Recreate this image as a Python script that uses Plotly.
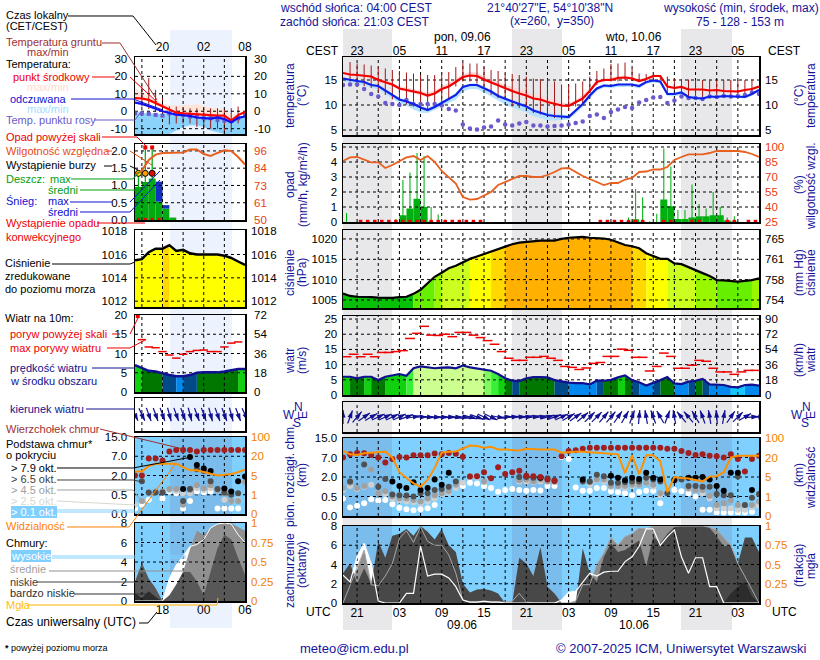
import numpy as np
import plotly.graph_objects as go

N = None
FONT = "Liberation Sans"
NAVY = "#14149a"
W, H = 820, 660

# ---------------- right (long) meteogram: hourly, t = hours from 08.06 21 UTC
T_R = list(range(-2, 58))
temp_mid = [16.4,16.1,16.0,15.8,15.7,15.0,14.6,14.1,13.3,13.0,
            12.6,12.4,11.9,12.3,13.2,13.7,14.6,15.6,15.9,15.8,
            15.1,14.5,14.0,13.4,12.8,12.3,11.9,11.3,11.1,10.6,
            10.3,9.9,9.8,10.6,11.3,12.8,14.6,15.0,15.0,15.4,
            15.5,15.3,14.8,15.2,15.8,15.8,13.7,13.4,13.6,13.1,
            13.1,13.1,12.9,13.0,12.8,12.7,12.7,13.0,13.2,13.7]
temp_hi = [16.6,16.4,16.2,16.1,15.9,15.4,15.0,14.4,13.7,13.5,
           13.2,12.9,12.5,12.9,13.8,14.4,15.3,16.1,16.6,16.5,
           15.8,15.1,14.6,14.0,13.6,13.2,12.8,12.2,11.9,11.4,
           11.0,10.5,10.3,11.0,12.0,13.4,14.9,15.4,15.5,15.8,
           15.9,15.7,15.2,15.5,16.1,16.0,14.0,13.7,13.9,13.4,
           13.3,13.3,13.1,13.2,13.0,12.9,12.9,13.2,13.4,13.9]
temp_lo = [16.2,15.9,15.8,15.6,15.4,14.8,14.3,13.7,13.0,12.7,
           12.2,12.0,11.5,12.0,12.9,13.5,14.3,15.3,15.6,15.5,
           14.8,14.2,13.7,13.1,12.5,12.0,11.6,11.0,10.8,10.3,
           10.0,9.6,9.6,10.4,11.1,12.6,14.4,14.8,14.8,15.2,
           15.3,15.1,14.6,15.0,15.6,15.6,13.5,13.2,13.4,12.9,
           12.9,12.9,12.7,12.8,12.6,12.5,12.5,12.8,13.0,13.5]
feel_mid = [15.3,15.0,14.8,14.6,14.0,13.8,12.9,12.0,11.1,10.7,
            10.2,9.5,9.0,9.6,10.4,11.2,12.0,13.6,14.0,14.0,
            13.4,12.7,11.8,11.2,10.7,10.2,9.7,8.9,8.5,8.0,
            7.8,7.7,7.6,8.9,10.2,11.9,13.3,13.9,13.8,14.1,
            14.1,14.1,13.8,14.6,14.9,14.7,12.2,12.2,12.5,11.6,
            11.4,11.3,11.7,11.6,11.8,11.7,11.7,11.6,12.2,13.0]
feel_hi = [15.5,15.2,15.0,14.8,14.3,14.0,13.1,12.3,11.4,11.0,
           10.5,9.9,9.4,10.0,10.8,11.6,12.4,13.9,14.3,14.3,
           13.7,13.0,12.2,11.6,11.1,10.6,10.1,9.3,8.9,8.4,
           8.2,8.1,8.0,9.2,10.5,12.2,13.6,14.2,14.1,14.3,
           14.3,14.3,14.0,14.8,15.1,14.9,12.5,12.5,12.8,11.9,
           11.7,11.6,12.0,11.9,12.0,11.9,11.9,11.9,12.4,13.2]
feel_lo = [14.7,14.4,14.2,13.9,13.4,13.2,12.2,11.3,10.4,9.9,
           9.1,8.5,8.4,9.0,9.7,10.4,11.1,12.7,13.2,13.2,
           12.5,11.7,10.9,10.1,9.5,9.0,8.5,7.8,7.4,6.9,
           6.9,7.0,7.1,8.3,9.6,11.3,12.8,13.5,13.4,13.6,
           13.6,13.7,13.3,14.2,14.5,14.3,11.8,11.7,12.1,11.2,
           11.0,10.9,11.4,11.3,11.5,11.4,11.4,11.3,11.9,12.7]
dew = [14.0,14.1,14.1,13.2,12.2,11.7,10.4,10.2,10.0,11.0,
       10.2,10.2,10.2,10.2,9.9,9.2,8.9,6.1,5.3,5.1,
       5.5,5.7,6.9,6.1,5.9,6.3,6.6,5.9,5.9,5.7,
       5.8,5.9,6.1,6.4,6.7,7.8,8.1,7.4,8.6,9.1,
       9.6,9.4,10.5,11.0,11.5,11.6,10.4,10.9,11.7,11.4,
       11.4,11.2,11.7,11.6,11.8,11.7,11.8,12.0,12.5,12.2]
ground_max = [N,18.6,18.3,18.1,17.9,17.6,17.3,17.0,16.8,16.5,
              16.3,16.0,16.0,16.0,16.6,16.6,17.6,18.4,18.3,18.3,
              17.6,17.0,16.8,16.3,16.2,16.0,15.7,15.3,15.2,15.2,
              14.7,14.1,14.0,14.3,14.7,15.7,16.8,17.3,18.2,18.3,
              18.5,17.3,16.3,16.2,16.0,15.8,15.7,15.3,15.2,15.1,
              15.0,15.0,15.0,14.9,15.0,15.0,15.0,15.0,15.1,N]
ground_min = [N,14.7,14.3,13.8,13.4,12.7,12.0,11.1,10.9,10.1,
              9.7,9.4,8.8,9.7,10.4,11.1,13.7,14.7,14.7,14.3,
              13.7,12.0,11.4,11.1,9.7,9.4,9.7,8.4,8.1,7.8,
              7.4,7.1,8.8,9.7,10.4,12.4,14.0,14.7,14.7,14.7,
              15.0,15.0,15.0,15.0,15.0,15.0,12.4,13.0,12.7,11.7,
              11.4,11.1,11.7,11.4,11.7,11.7,11.7,11.7,12.0,N]
humidity = [86,89.6,90,87,84.6,84.6,79,82,86,89.6,
            91,87,91,85,76,70,63.5,50,47.4,48,
            51.8,55,62,65,68.5,71,71,70,70,72,
            75,78.6,79,75,71,68,65,62,64,64,
            67.5,69,75,75.5,77.5,77.5,80,87,90,92.6,
            92.6,92.6,94,96,96,96,96,95,93,90]
rain_mean = [0,0,0,0,0,0,0,0,.45,.9,
             1.55,1,.02,0,0,0,0,0,0,0,
             0,0,0,0,0,0,0,0,0,0,
             0,0,0,0,0,0,0,0,0,0,
             .02,.18,.02,0,0,1.5,1.05,.2,.2,.3,
             .38,.38,.45,.45,.1,.03,0,0,0]
rain_max = [.6,0,0,0,0,0,0,.2,2.8,3.3,
            4.6,4.4,1,.5,.15,0,0,0,0,0,
            0,0,0,0,0,0,0,0,0,0,
            0,0,0,0,0,0,0,0,0,0,
            .3,2.2,1.65,.05,.55,4.9,3.7,.8,.8,2.5,
            1.2,.9,2,1,.3,.38,0,0,0]
convective = [0,0,1,1,1,1,1,1,1,1,
              1,1,1,1,1,1,1,1,1,1,
              0,0,0,0,0,0,0,0,0,0,
              0,0,0,0,0,0,1,1,1,1,
              1,1,1,0,0,1,1,0,0,1,
              1,0,0,0,1,1,0,1,1]
pressure = [1006.6,1006.0,1005.8,1005.8,1005.7,1005.6,1005.5,1005.5,1005.7,1005.8,
            1006.5,1007.5,1009.1,1010.7,1011.7,1012.8,1013.4,1014.3,1015.1,1015.7,
            1016.3,1016.9,1017.5,1018.1,1018.7,1019.1,1019.3,1019.5,1019.6,1019.6,
            1019.6,1020.0,1020.3,1020.4,1020.5,1020.3,1020.2,1020.1,1019.8,1019.2,
            1018.5,1018.2,1017.7,1016.5,1015.7,1015.1,1015.1,1014.0,1013.8,1013.0,
            1012.2,1011.6,1010.9,1009.9,1009.8,1009.7,1009.5,1009.7,1009.9,1010.3]
wind = [6.0,6.0,5.5,6.0,6.0,4.9,6.0,6.4,6.9,6.3,
        8.8,9.4,9.1,8.8,9.0,9.1,8.8,9.7,9.1,8.8,
        8.4,8.0,6.9,5.5,4.7,4.6,5.5,5.9,5.9,5.8,
        4.9,4.4,4.1,3.9,3.9,3.5,4.7,4.7,5.0,5.8,
        6.4,4.9,4.2,3.1,3.9,4.9,5.9,3.8,3.6,4.4,
        4.7,5.3,3.5,3.5,3.3,2.7,2.5,3.3,3.4,3.1]
gust = [12.6,13.4,12.6,13.4,12.6,14.0,14.0,14.3,14.6,18.6,
        20.3,22.6,19.7,19.6,20.0,19.2,20.6,20.6,19.7,18.9,
        17.9,16.7,14.3,12.1,11.4,11.4,12.4,12.4,12.7,12.1,
        11.4,9.4,9.1,8.4,8.9,10.4,10.7,12.7,12.7,15.1,
        14.7,12.4,12.4,7.9,9.4,13.8,12.7,8.8,8.8,9.8,
        11.4,11.1,8.8,7.6,7.6,6.8,7.6,8.1,8.1]
wind_dir = [0,20,40,55,60,65,65,65,65,70,
            80,90,95,95,95,95,100,100,105,110,
            115,115,100,85,85,85,80,80,80,75,
            70,65,60,55,50,45,45,40,40,35,
            30,20,5,350,340,330,20,350,320,320,
            330,340,350,355,10,35,45,60,85,90]
cloud_top = [7.0,8.3,8.8,8.7,8.0,7.0,5.7,6.6,7.2,7.0,
             7.9,7.9,7.9,8.6,8.3,8.8,8.5,7.3,2.1,2.2,
             3.2,1.9,4.5,2.8,3.2,3.6,2.3,2.2,2.0,1.8,
             1.7,7.5,9.7,10,10.6,11,11,11,11,11,
             11,11,11,11,11,11,10.6,10.6,9.7,8.8,
             8,8.3,7.7,7.5,7,8.3,6.6,3.4,6.6,7.7]
base_79 = [N,N,N,N,N,N,N,1.66,1.3,1.15,
           1.6,1.0,1.15,1.8,1.4,3.1,N,N,N,N,
           N,N,N,N,N,N,N,N,1.95,N,
           N,N,N,N,1.8,N,N,N,2.3,1.95,
           1.75,1.95,1.85,3.1,1.95,1.8,N,1.75,N,1.95,
           1.95,2,1.8,1.3,.95,3.1,3.1,N,1.0,N]
base_65 = [N,1.65,N,5.2,N,1.25,1.85,.65,.6,.57,
           .5,.75,.75,1,1.07,1.25,1.66,N,N,N,
           N,N,N,N,N,2,2,1.95,1.95,1.9,
           1.75,N,N,N,1.66,1.66,2.6,2.2,1.55,1.55,
           1.6,1.66,1.66,1.95,1.8,1.66,.75,1.8,1.8,1.3,
           1.3,1.25,1.25,.7,.6,.6,2.1,.28,.47,.7]
base_45 = [1.15,1.55,1.15,1.3,3.9,.75,.9,.5,.45,.45,
           .41,.37,.45,.6,.75,.9,1.4,N,2.2,2.2,
           1.66,N,N,N,N,1.75,1.8,1.66,1.8,1.66,
           1.66,N,N,N,N,1.6,1.8,1.8,1.3,1.3,
           1.3,1.4,1.4,1.55,1.4,.75,N,N,N,1.15,
           1.0,1.0,.55,.28,.33,.4,.28,.28,.28,.37]
base_25 = [1,1.3,1.07,1.25,1.4,.75,.7,.45,.4,.37,
           .35,.33,.37,.45,.68,.8,1.15,1.55,2,2,
           1.6,N,N,N,N,1.66,1.66,1.6,1.66,1.66,
           1.6,N,N,N,N,1.4,1.75,1.66,1.25,1.25,
           1.15,1.3,1.4,1.55,1.25,.6,N,N,N,1.07,
           1.0,.75,.45,.2,.2,.2,.16,.16,.22,.28]
base_01 = [.45,.22,.26,.33,.43,.4,.41,.3,.21,.17,
           .15,.17,.2,.28,N,N,N,1.3,1.55,1.5,
           1.3,1.15,.87,1.0,1.07,1.0,.95,1,.97,1.3,
           1.3,7.2,6.6,1.2,.95,.95,1.15,1.15,.9,.85,
           .75,.6,.85,.95,.95,.33,N,1.0,.9,.75,
           .5,.16,.16,.09,.09,.09,.09,.09,.11,.28]
visibility = [47,33,30,37,40,43,44,20,8.7,4.8,
              3.7,3.0,4.4,12,40,44,45,57,69,67,
              60,64,53,53,51,49,56,53,53,53,
              53,40,43,44,44,43,40,37,36,33,
              8,29,7,29,29,17,1.9,5,4.8,4.7,
              4.4,4.1,5.3,5.6,8.7,20,27,27,27,27]
cc_low = [3.1,4.1,2,3.6,2,6.4,4.7,7,7.2,7.7,
          7,8,7.4,6.6,7.7,6,5.3,2,1.1,1.4,
          1.45,1.3,1,0,0,4.7,4.1,2.8,5.8,1.7,
          1,0,0,0,5.7,3.1,2.2,4.8,6.2,5.3,
          5.5,6,6.5,3.8,6.9,6.2,7.2,7.9,8,8,
          8,8,7.8,6.9,5.9,6,4.1,6.8,6.8,5.3]
cc_mid = [0,1.8,3.5,5.5,1.9,1.8,2.8,4.1,6.7,7.5,
          6.3,7.9,6.4,6,6,5,3.1,.3,.1,.1,
          .1,.1,.1,.1,.2,1,.1,0,0,0,
          0,0,0,.2,1.9,1.9,4,5.2,6.8,6,
          6.9,7.2,7.8,7.7,8,8,8,8,8,8,
          8,8,7.9,7.6,6.8,6,4.1,2.8,1.4,0]
cc_high = [2.9,2.2,4.8,6.2,4.1,.2,0,0,0,1,
           1,5.9,2.8,3,3,2.6,1.7,.3,.1,.1,
           .2,.1,.1,0,0,0,0,0,0,0,
           0,.3,1.1,1.2,2.1,3.1,2.8,3.2,3.3,3.3,
           4.3,4.8,5.9,7.7,7.7,6,6.9,7.6,4.8,3.1,
           4.7,4.7,1.7,1.7,0,0,0,0,0,0]
cc_vlow = [0,0,0,0,0,0,0,0,0,0,
           0,0,0,0,0,0,0,0,0,0,
           0,0,0,0,0,0,0,0,0,0,
           0,0,0,0,0,0,0,0,0,0,
           0,0,0,0,0,0,0,0,0,0,
           0,0,0,0,0,1,1.7,2.2,.7,0]
fog = [0,0,0,0,0,0,0,0,0,0,
       0,0,0,0,0,0,0,0,0,0,
       0,0,0,0,0,0,0,0,0,0,
       0,0,0,0,0,0,0,0,0,0,
       0,0,0,0,0,0,0,0,0,0,
       0,.04,.07,.12,.07,.07,.1,.08,0,0]

# ---------------- left (short) meteogram: t = hours from 18 UTC
T_L = list(range(-4, 13))
ltemp_mid = [7.5,7.3,6.5,4.6,2.7,.8,-.8,-1.2,-1.5,-1.7,-2.1,-2.3,-2.5,-2.5,-5.4,-2.2,-.4]
ltemp_hi = [13.3,10.4,8.5,6.5,4.6,3.6,3,3.6,3.6,4,3,1.7,1.7,.8,-2.1,-1.2,-.2]
ltemp_lo = [7,6.8,6,4,2,.2,-1.2,-1.6,-2,-2.2,-2.6,-2.7,-2.9,-3,-6,-2.8,-.8]
lfeel_mid = [5,4.2,2.9,1.3,0,-1,-2,-2.3,-2.7,-3.6,-4.1,-4.2,-3.5,-4.5,-6.5,-3.8,-3]
lfeel_hi = [0,-1,-1.2,-1.5,-1.5,-1.5,-2,-2.5,-3,-3.5,-3,-3,-3,-3.5,-6.5,-4,-3]
lfeel_lo = [-13,-13,-13,-13,-13,-13,-11,-9,-8,-8,-9,-11,-12,-13,-13,-13,-13]
ldew = [-1.2,-1.2,-1.5,-2.1,-2.5,-1.2,-1.5,-2.1,-3,-3,-4,-4,-5,-5.4,-5.4,-4,-2.1]
lground_max = [N,14.8,19,12.3,8.5,2.7,2.7,1.7,1.7,1.7,1.7,1.7,1.7,.8,1.7,2.7,N]
lground_min = [N,2.7,1.3,-.4,-3,-7.5,-7,-7,-7,-9,-10,-10,-10,-12,-12,-7,N]
lhumidity = [80,83,90,93.6,94.7,94.7,94.7,95,97,97,94,92.7,94.7,96.5,96,92,87]
lrain_mean = [.96,1.1,1.2,.53,.33,.07,0,0,0,0,0,0,0,0,0,0]
lsnow_mean = [0,0,0,.58,.1,0,0,0,0,0,0,0,0,0,0,0]
lrain_max = [1.4,2.1,2.1,0,0,0,0,0,0,0,0,0,0,0,0,0]
lconv = [1,1,1,1,0,0,0,0,0,0,0,0,0,0,0,0]
lover = [0,1,1,0,0,0,0,0,0,0,0,0,0,0,0,0]
lstorm = [1.35,1.35,1.35,N,N,N,N,N,N,N,N,N,N,N,N,N]
lpressure = [1015.5,1015.6,1016.2,1016.5,1016.5,1016.8,1016.3,1016.4,1016.1,1016,1016,1016,1016,1015.9,1015.7,1015.4,1015.1]
lwind = [7,6.3,5.5,5.3,4.8,4.4,4.1,4.1,4.4,5,5.1,5.1,5.1,5.3,5.6,6,6]
lgust = [N,13.6,11.7,11.5,10.5,9.6,8.8,9.8,10.5,10.8,10.9,10.5,10.5,11.7,12.7,13,N]
lgust_over = [19.7]
ldir = [155,155,160,160,160,165,160,160,165,160,160,165,160,160,165,160,155]
ltop = [2,2,6.4,6.4,5.9,9,9.6,9.6,9.6,9,9.6,9.6,9.6,9.6,9.6,9.6,9.6]
lb79 = [N,N,N,N,N,N,N,.95,6.8,4.7,3.8,3.2,N,.98,.75,1.55,1.92]
lb65 = [N,1.55,.67,.67,.67,N,N,.34,.95,3.6,3.2,1.55,.95,.67,.5,.62,N]
lb45 = [N,.34,.67,.75,.75,.95,.95,.24,.87,1.25,1,1.25,.87,.62,.34,.34,1.5]
lb25 = [.24,.34,N,N,N,.87,.8,.62,.62,1,.87,1,.87,.37,.34,.37,N]
lb01 = [.14,.24,.37,N,.4,.75,.62,.14,.34,.75,.67,.75,.14,.14,.14,.14,N]
lvis = [8.2,8.2,12.4,14.2,14.2,14.2,14.2,11.6,9,9,7.6,6.8,5,5.5,6.2,7.6,9.5]
lc_low = [2,3.9,2.3,1.3,0,.6,1.7,3,3,2,.6,3,5.4,6.8,6.3,4.4,2.7]
lc_vlow = [.8,.3,1,.4,0,0,0,0,0,0,0,0,0,0,0,0,0]
lc_mid = [0,0,0,0,0,0,1,3,5.3,7.2,6.8,7.5,7.9,8,8,7.6,7.2]
lc_high = [0,0,0,0,0,2.3,3.7,4.6,5.6,5.8,6.3,7.5,7.9,8,7.9,6.8,6]
lfog = [0,0,0,0,0,0,0,0,0,0,0,0,.14,.14,.14,.14,0]

# ---------------- tick labels
R_HOURS_T = [0,6,12,18,24,30,36,42,48,54]
R_CEST = ["23","05","11","17","23","05","11","17","23","05"]
R_UTC = ["21","03","09","15","21","03","09","15","21","03"]
L_HOURS_T = [0,6,12]
L_LOCAL = ["20","02","08"]
L_UTC = ["18","00","06"]
BASE_KM = [0,.5,2,7,15]
VIS_KM = [0,1,5,20,100]

fig = go.Figure()
layout = {}
shapes = []
annots = []

def name(prefix, i):
    return prefix if i == 1 else f"{prefix}{i}"

def make_panel(n, box, xr, yr, yt, ytt, rt, rtt, rr=None, rcolor="black", xtop=None, xbot=None,
               lstand=6, rstand=8, xstand=2):
    l, t, r, b = box
    xa = dict(domain=[l/W, r/W], range=xr, anchor=name("y", 2*n-1), showgrid=False, zeroline=False,
              showline=True, mirror=True, linecolor="black", linewidth=1.5, ticks="", fixedrange=True,
              showticklabels=False, layer="above traces")
    lab = xtop or xbot
    if lab:
        xa.update(showticklabels=True, tickvals=lab[0], ticktext=lab[1], side="top" if xtop else "bottom",
                  tickfont=dict(family=FONT, size=12, color="black"), ticklabelstandoff=xstand, tickangle=0)
    ya = dict(domain=[1-b/H, 1-t/H], range=yr, anchor=name("x", n), showgrid=False, zeroline=False,
              showline=True, mirror=True, linecolor="black", linewidth=1.5, ticks="", tickvals=yt, ticktext=ytt,
              showticklabels=ytt is not None, tickfont=dict(family=FONT, size=11.5, color="black"),
              ticklabelstandoff=lstand, fixedrange=True, layer="above traces")
    yb = dict(domain=[1-b/H, 1-t/H], range=rr or yr, anchor=name("x", n), overlaying=name("y", 2*n-1),
              side="right", showgrid=False, zeroline=False, showline=False, ticks="", tickvals=rt, ticktext=rtt,
              showticklabels=rtt is not None, tickfont=dict(family=FONT, size=11.5, color=rcolor),
              ticklabelstandoff=rstand, fixedrange=True)
    layout[name("xaxis", n)] = xa
    layout[name("yaxis", 2*n-1)] = ya
    layout[name("yaxis", 2*n)] = yb
    # make the right axis exist
    fig.add_trace(go.Scatter(x=[None], y=[None], xaxis=name("x", n), yaxis=name("y", 2*n), showlegend=False,
                             hoverinfo="skip"))

def add(n, trace, right=False):
    trace.update(xaxis=name("x", n), yaxis=name("y", 2*n if right else 2*n-1), showlegend=False, hoverinfo="skip")
    fig.add_trace(trace)

def line(n, x, y, color, width=2.0, right=False, dash=None):
    add(n, go.Scatter(x=x, y=y, mode="lines", line=dict(color=color, width=width, dash=dash), connectgaps=False), right)

def band(n, x, hi, lo, color):
    add(n, go.Scatter(x=list(x)+list(x)[::-1], y=list(hi)+list(lo)[::-1], mode="none", fill="toself", fillcolor=color))

def dots(n, x, y, color, size=6, symbol="circle", right=False, lw=0, lc="black"):
    add(n, go.Scatter(x=x, y=y, mode="markers", marker=dict(color=color, size=size, symbol=symbol,
                                                            line=dict(width=lw, color=lc))), right)

def grid(n, xs, ys, xr, yr):
    gx, gy = [], []
    for v in xs:
        gx += [v, v, None]; gy += [yr[0], yr[1], None]
    for v in ys:
        gx += [xr[0], xr[1], None]; gy += [v, v, None]
    line(n, gx, gy, "black", 1, dash="3px,3px")

def area_by_color(n, x, y, base, colorfn):
    groups = {}
    for i in range(len(x)-1):
        c = colorfn((y[i]+y[i+1])/2)
        g = groups.setdefault(c, ([], []))
        g[0].extend([x[i], x[i], x[i+1], x[i+1], None])
        g[1].extend([base, y[i], y[i+1], base, None])
    for c, (gx, gy) in groups.items():
        add(n, go.Scatter(x=gx, y=gy, mode="none", fill="toself", fillcolor=c))

def pressure_color(v):
    for lim, c in [(1006.6,"#08c008"),(1010,"#66f000"),(1012,"#99f800"),(1015,"#ccff20"),
                   (1016.6,"#ffff00"),(1018,"#ffd800")]:
        if v < lim:
            return c
    return "#ffb000"

def wind_color(v):
    for lim, c in [(3,"#10c8ff"),(4.2,"#0088ee"),(4.8,"#004a88"),(5.95,"#007800"),(7,"#10d010"),
                   (8,"#38f038"),(8.6,"#80f860")]:
        if v < lim:
            return c
    return "#ccff90"

def arrows(n, x, deg, pxh, pyh, L):
    hx, hy, lx, ly = [], [], [], []
    for t, d in zip(x, deg):
        a = np.radians(d)
        dx, dy = L*np.sin(a)/pxh, L*np.cos(a)/pyh
        lx += [t-dx, t+dx, None]; ly += [-dy, dy, None]
        hx.append(t+dx); hy.append(dy)
    line(n, lx, ly, "#101090", 1.2)
    add(n, go.Scatter(x=hx, y=hy, mode="markers", marker=dict(symbol="arrow", size=8, angle=list(deg), color="#101090")))

def ground(n, x, hi, lo):
    gx, gy = [], []
    for t, a, b in zip(x, hi, lo):
        if a is not None:
            gx += [t, t, None]; gy += [b, a, None]
    line(n, gx, gy, "#a01818", 1)

def base_pos(v):
    return [None if k is None else float(np.interp(k, BASE_KM, range(5))) for k in v]

def vis_pos(v):
    return [float(np.interp(k, VIS_KM, range(5))) for k in v]

# ---------------- page backgrounds
def px_rect(x0, y0, x1, y1, color):
    shapes.append(dict(type="rect", xref="paper", yref="paper", x0=x0/W, x1=x1/W, y0=1-y0/H, y1=1-y1/H,
                       fillcolor=color, line_width=0, layer="below"))

px_rect(170, 30, 232, 628, "#ecf3ff")
for a, b in [(343, 392), (512, 562), (681, 732)]:
    px_rect(a, 29, b, 630, "#e8e8ea")
for box in [(135, 437, 245, 514), (135, 523, 245, 601), (343, 438, 759, 516), (343, 526, 759, 603)]:
    px_rect(box[0], box[1], box[2], box[3], "#80d0ff")
for box in [(170, 437, 232, 514), (170, 523, 232, 601)]:
    px_rect(box[0], box[1], box[2], box[3], "#7abcec")
for a, b in [(343, 392), (512, 562), (681, 732)]:
    px_rect(a, 438, b, 516, "#7abcec")
    px_rect(a, 526, b, 603, "#7abcec")

XL, XR = [-4, 12], [-2, 57]
GL, GR = [-3, 0, 3, 6, 9], list(range(0, 57, 3))
tL = np.array(T_L)
tR = np.array(T_R)
mL = tL[:-1] + .5
mR = tR[:-1] + .5

# ================ LEFT PANELS
# 1 temperature
yr = [-13.05, 31.1]
make_panel(1, (135,57,245,134), XL, yr, [-10,0,10,20,30], ["-10","0","10","20","30"],
           [-10,0,10,20,30], ["-10","0","10","20","30"], xtop=(L_HOURS_T, L_LOCAL), xstand=0, lstand=4, rstand=8)
band(1, T_L, ltemp_hi, ltemp_lo, "#ffe4da")
band(1, T_L, lfeel_hi, lfeel_lo, "rgba(110,200,250,.8)")
ground(1, T_L, lground_max, lground_min)
grid(1, GL, [-10,0,10,20], XL, yr)
dots(1, T_L, ldew, "#6a5acd", 4, "square")
line(1, T_L, ltemp_mid, "#ff0000", 2.2)
line(1, T_L, lfeel_mid, "#1010f0", 2.2)

# 2 precipitation
yr = [0, 2.2]; rr = [50, 100.67]
make_panel(2, (135,144,245,220), XL, yr, [0,.5,1,1.5,2], ["0.0","0.5","1.0","1.5","2.0"],
           [50,61.5,73,84.5,96], ["50","61","73","84","96"], rr=rr, rcolor="#e84010", lstand=4, rstand=8)
add(2, go.Bar(x=mL, y=lrain_mean, width=1, marker=dict(color="#00aa10", line_width=0)))
add(2, go.Bar(x=mL, y=lsnow_mean, base=lrain_mean, width=1, marker=dict(color="#1030c0", line_width=0)))
add(2, go.Bar(x=mL, y=lrain_max, width=.18, marker=dict(color="#00aa10", line_width=0)))
grid(2, GL, [.5,1,1.5,2], XL, yr)
line(2, T_L, lhumidity, "#e86020", 2, right=True)
dots(2, mL, lstorm, ["#ffe000","#ffa000","#e01000"]+["#000000"]*13, 6, lw=1)
dots(2, [m for m, f in zip(mL, lover) if f], [2.1 for f in lover if f], "#ee0000", 4, "square")
dots(2, [m for m, f in zip(mL, lconv) if f], [0.02 for f in lconv if f], "#ee0000", 3, "square")

# 3 pressure
yr = [1011.5, 1018.1]
make_panel(3, (135,230,245,307), XL, yr, [1012,1014,1016,1018], ["1012","1014","1016","1018"],
           [1012,1014,1016,1018], ["1012","1014","1016","1018"], lstand=4, rstand=5)
area_by_color(3, T_L, lpressure, yr[0], pressure_color)
grid(3, GL, [1012,1014,1016], XL, yr)
line(3, T_L, lpressure, "black", 2.5)

# 4 wind
yr = [0, 20]
make_panel(4, (135,315,245,392), XL, yr, [0,5,10,15,20], ["0","5","10","15","20"],
           [0,5,10,15,20], ["0","18","36","54","72"], lstand=4, rstand=8)
area_by_color(4, T_L, lwind, 0, wind_color)
grid(4, GL, [5,10,15], XL, yr)
line(4, T_L, lwind, "#101090", 2.5)
dots(4, T_L, lgust, "#f00000", 6, "line-ew", lw=1.5, lc="#f00000")
dots(4, [-3.6], lgust_over, "#f00000", 4, "square")

# 5 wind direction
make_panel(5, (135,398,245,431), XL, [-1,1], [], None, [], None)
grid(5, GL, [], XL, [-1,1])
arrows(5, T_L, ldir, 6.875, 16.5, 7)

# 6 cloud base
yr = [0, 4]
make_panel(6, (135,437,245,514), XL, yr, [0,1,2,3,4], ["0.0","0.5","2.0","7.0","15.0"],
           [0,1,2,3,4], ["0","1","5","20","100"], rcolor="#f08000", lstand=4, rstand=5)
grid(6, GL, [1,2,3], XL, yr)
for arr, c in [(lb01,"#ffffff"),(lb25,"#d0d0d0"),(lb45,"#a0a0a0"),(lb65,"#505050"),(lb79,"#000000"),(ltop,"#a02020")]:
    dots(6, T_L, base_pos(arr), c, 6)
line(6, T_L, vis_pos(lvis), "#ff9000", 2, right=True)

# 7 cloud cover
yr = [0, 8]
make_panel(7, (135,523,245,601), XL, yr, [0,2,4,6,8], ["0","2","4","6","8"],
           [0,2,4,6,8], ["0","0.25","0.5","0.75","1"], rcolor="#f08000", xbot=(L_HOURS_T, L_UTC),
           lstand=4, rstand=5, xstand=-3)
zL = [0]*len(T_L)
band(7, T_L, lc_high, zL, "#ffffff")
band(7, T_L, lc_mid, zL, "#909090")
band(7, T_L, lc_low, zL, "#585858")
band(7, T_L, lc_vlow, zL, "#2c2c2c")
grid(7, GL, [2,4,6], XL, yr)
line(7, T_L, lc_high, "#ffffff", 1)
add(7, go.Bar(x=T_L, y=lfog, width=.45, marker=dict(color="#ffb000", line_width=0)))

# ================ RIGHT PANELS
# 8 temperature
yr = [4, 19.6]
make_panel(8, (343,57,759,135), XR, yr, [5,10,15], ["5","10","15"], [5,10,15], ["5","10","15"],
           xtop=(R_HOURS_T, R_CEST), lstand=2, rstand=5, xstand=-4)
band(8, T_R, temp_hi, temp_lo, "#ffd8d8")
band(8, T_R, feel_hi, feel_lo, "#b4e2ff")
grid(8, GR, [5,10,15], XR, yr)
ground(8, T_R, ground_max, ground_min)
dots(8, T_R, dew, "#6a5acd", 4.5)
line(8, T_R, temp_mid, "#f00000", 2.2)
line(8, T_R, feel_mid, "#1020e8", 2.2)

# 9 precipitation
yr = [0, 5.2]; rr = [25, 103]
make_panel(9, (343,144,759,222), XR, yr, [0,1,2,3,4,5], ["0","1","2","3","4","5"],
           [25,40,55,70,85,100], ["25","40","55","70","85","100"], rr=rr, rcolor="#e84010", lstand=2, rstand=5)
add(9, go.Bar(x=mR, y=rain_mean, width=1, marker=dict(color="#00b010", line_width=0)))
add(9, go.Bar(x=mR, y=rain_max, width=.15, marker=dict(color="#00b010", line_width=0)))
grid(9, GR, [1,2,3,4,5], XR, yr)
dots(9, [m for m, f in zip(mR, convective) if f], [0.03 for f in convective if f], "#ee0000", 3.5, "square")
line(9, T_R, humidity, "#e86020", 1.8, right=True)

# 10 pressure
yr = [1003.03, 1022.2]
make_panel(10, (343,230,759,308), XR, yr, [1005,1010,1015,1020], ["1005","1010","1015","1020"],
           [1005,1010,1015,1020], ["754","758","761","765"], lstand=2, rstand=5)
area_by_color(10, T_R, pressure, yr[0], pressure_color)
grid(10, GR, [1005,1010,1015,1020], XR, yr)
line(10, T_R, pressure, "black", 2.2)

# 11 wind
yr = [0, 26]
make_panel(11, (343,316,759,395), XR, yr, [0,5,10,15,20,25], ["0","5","10","15","20","25"],
           [0,5,10,15,20,25], ["0","18","36","54","72","90"], lstand=2, rstand=5)
area_by_color(11, T_R, wind, 0, wind_color)
grid(11, GR, [5,10,15,20,25], XR, yr)
line(11, T_R, wind, "#101090", 2.2)
dots(11, mR, gust, "#f00000", 7, "line-ew", lw=1.5, lc="#f00000")

# 12 wind direction
make_panel(12, (343,402,759,432), XR, [-1,1], [], None, [], None)
grid(12, GR, [], XR, [-1,1])
arrows(12, T_R, wind_dir, 7.05, 15, 7)

# 13 cloud base
yr = [0, 4]
make_panel(13, (343,438,759,516), XR, yr, [0,1,2,3,4], ["0.0","0.5","2.0","7.0","15.0"],
           [0,1,2,3,4], ["0","1","5","20","100"], rcolor="#f08000", lstand=2, rstand=5)
grid(13, GR, [1,2,3], XR, yr)
for arr, c in [(base_01,"#ffffff"),(base_25,"#d0d0d0"),(base_45,"#a0a0a0"),(base_65,"#505050"),(base_79,"#000000"),(cloud_top,"#a02020")]:
    dots(13, T_R, base_pos(arr), c, 6)
line(13, T_R, vis_pos(visibility), "#ff9000", 2, right=True)

# 14 cloud cover
yr = [0, 8]
make_panel(14, (343,526,759,603), XR, yr, [0,2,4,6,8], ["0","2","4","6","8"],
           [0,2,4,6,8], ["0","0.25","0.5","0.75","1"], rcolor="#f08000", xbot=(R_HOURS_T, R_UTC),
           lstand=2, rstand=5, xstand=-2)
zR = [0]*len(T_R)
band(14, T_R, cc_high, zR, "#ffffff")
band(14, T_R, cc_mid, zR, "#909090")
band(14, T_R, cc_low, zR, "#484848")
band(14, T_R, cc_vlow, zR, "#2c2c2c")
grid(14, GR, [2,4,6], XR, yr)
line(14, T_R, cc_mid, "#a8a8a8", 1)
line(14, T_R, cc_high, "#ffffff", 1.2)
add(14, go.Bar(x=T_R, y=fog, width=.45, marker=dict(color="#ffb000", line_width=0)))

# ---------------- text
def txt(x, y, s, color="black", anchor="left", size=12, angle=0, bg=None):
    a = dict(x=x/W, y=1-y/H, xref="paper", yref="paper", text=s, showarrow=False, xanchor=anchor, yanchor="middle",
             font=dict(family=FONT, size=size, color=color), textangle=angle, borderpad=0, borderwidth=0)
    if bg:
        a["bgcolor"] = bg
    annots.append(a)

def ltxt(x, y, s, color="black", bg=None):
    txt(x, y, s, color, size=11, bg=bg)

def wire(pts, color, width=1):
    p = " ".join(("M" if i == 0 else "L") + f" {x/W:.5f} {1-y/H:.5f}" for i, (x, y) in enumerate(pts))
    shapes.append(dict(type="path", path=p, xref="paper", yref="paper", line=dict(color=color, width=width), layer="above"))

BROWN = "#a03030"; RED = "#ee0000"; BLUE = "#1010d0"; DBLUE = "#101090"; VIO = "#6a5acd"; GREEN = "#00a010"
ORR = "#e84a10"; ORANGE = "#ff8000"; SKY = "#80d0ff"

ltxt(6,15,"Czas lokalny"); ltxt(6,26,"(CET/CEST)")
wire([(68,16),(133,16),(156,45)],"black")
ltxt(6,42,"Temperatura gruntu",BROWN); ltxt(27,52,"max/min",BROWN)
wire([(102,43),(120,43),(157,100)],BROWN)
ltxt(6,64,"Temperatura:")
ltxt(13,77,"punkt środkowy",RED); wire([(92,77),(115,77)],RED); wire([(130,77),(157,102)],RED)
ltxt(27,87,"max/min","#ffdcd0")
ltxt(10,99,"odczuwana",BLUE); wire([(71,99),(133,99),(163,110)],BLUE)
ltxt(27,109,"max/min","#a0e0ff")
ltxt(6,120,"Temp. punktu rosy",VIO); wire([(94,120),(135,120),(140,113)],VIO)
ltxt(6,137,"Opad powyżej skali",RED); wire([(102,137),(137,137),(146,146)],RED)
ltxt(6,151,"Wilgotność względna",ORR); wire([(106,151),(112,151)],ORR); wire([(130,151),(152,165)],ORR)
ltxt(6,165,"Wystąpienie burzy"); wire([(104,166),(112,166)],"black"); wire([(130,166),(138,170)],"black")
ltxt(6,179,"Deszcz:",GREEN); ltxt(50,179,"max",GREEN); wire([(71,179),(133,179),(139,172)],GREEN)
ltxt(48,190,"średni",GREEN); wire([(80,190),(137,190)],GREEN)
ltxt(6,201,"Śnieg:",BLUE); ltxt(48,201,"max",BLUE); wire([(70,202),(112,202)],BLUE); wire([(130,202),(160,171)],BLUE)
ltxt(48,212,"średni",BLUE); wire([(80,212),(130,212),(160,180)],BLUE)
ltxt(6,223,"Wystąpienie opadu",RED); ltxt(6,237,"konwekcyjnego",RED); wire([(97,223),(145,223)],RED)
ltxt(5,263,"Ciśnienie"); ltxt(5,276,"zredukowane"); ltxt(5,289,"do poziomu morza")
wire([(52,264),(130,264),(135,262)],"black")
ltxt(5,318,"Wiatr na 10m:")
ltxt(10,334,"poryw powyżej skali",RED); wire([(112,334),(120,334)],RED); wire([(130,334),(138,318)],RED)
ltxt(10,348,"max porywy wiatru",RED); wire([(107,348),(130,348),(145,340)],RED)
ltxt(10,368,"prędkość wiatru",DBLUE); wire([(92,368),(135,368)],DBLUE)
ltxt(10,381,"w środku obszaru",DBLUE)
ltxt(10,409,"kierunek wiatru",DBLUE); wire([(86,409),(135,409)],DBLUE)
ltxt(6,429,"Wierzchołek chmur",BROWN); wire([(100,429),(183,449)],BROWN)
ltxt(6,444,"Podstawa chmur*"); ltxt(6,455,"o pokryciu")
ltxt(11,468,"> 7.9 okt."); wire([(57,468),(133,468),(192,457)],"black")
ltxt(11,479,"> 6.5 okt.","#404040"); wire([(57,480),(133,480),(143,482)],"#404040")
ltxt(11,490,"> 4.5 okt.","#a0a0a0"); wire([(57,490),(133,490),(143,503)],"#a0a0a0")
ltxt(11,501,"> 2.5 okt.","#d8d8d0"); wire([(57,501),(135,505)],"#d8d8d0")
ltxt(11,512,"> 0.1 okt.","#ffffff",bg=SKY); wire([(55,510),(135,510)],SKY); wire([(55,512),(135,512)],SKY)
ltxt(6,526,"Widzialność",ORANGE); wire([(67,527),(129,527),(176,463)],ORANGE)
ltxt(6,543,"Chmury:")
ltxt(11,556,"wysokie","#ffffff",bg=SKY); wire([(52,556),(186,556)],SKY); wire([(52,558),(186,558)],SKY)
ltxt(10,569,"średnie","#a0a0a0"); wire([(49,571),(193,571)],"#909090")
ltxt(10,582,"niskie","#404040"); wire([(37,582),(135,582)],"#404040")
ltxt(10,593,"bardzo niskie","#303030"); wire([(74,594),(148,594)],"#303030")
ltxt(6,605,"Mgła","#ffc000"); wire([(27,605),(217,605),(218,598)],"#ffb000")
txt(6,622,"Czas uniwersalny (UTC)"); wire([(139,623),(148,623),(157,612)],"black")
txt(5,648,"<b>*</b> powyżej poziomu morza",size=9)

txt(280,8,"wschód słońca: 04:00 CEST",NAVY); txt(280,22,"zachód słońca: 21:03 CEST",NAVY)
txt(550,8,"21°40'27\"E, 54°10'38\"N",NAVY,"center"); txt(552,21,"(x=260,  y=350)",NAVY,"center")
txt(819,8,"wysokość (min, środek, max)",NAVY,"right"); txt(740,22,"75 - 128 - 153 m",NAVY,"center")
txt(463,37,"pon, 09.06","black","center"); txt(633,37,"wto, 10.06","black","center")
txt(322,51,"CEST","black","center"); txt(784,51,"CEST","black","center")
txt(318,612,"UTC","black","center"); txt(784,612,"UTC","black","center")
txt(462,625,"09.06","black","center"); txt(634,625,"10.06","black","center")
txt(354,648,"meteo@icm.edu.pl",NAVY,"center",size=13)
txt(681,648,"© 2007-2025 ICM, Uniwersytet Warszawski",NAVY,"center",size=13)

for x, y, s in [(290,96,"temperatura"),(302,96,"(°C)"),(290,185,"opad"),(303,185,"(mm/h, kg/m²/h)"),
                (290,273,"ciśnienie"),(302,273,"(hPa)"),(290,361,"wiatr"),(302,361,"(m/s)"),
                (290,476,"pion. rozciągł. chm."),(302,475,"(km)"),(290,571,"zachmurzenie"),(302,565,"(oktanty)"),
                (799,96,"(°C)"),(811,96,"temperatura"),(799,185,"(%)"),(811,186,"wilgotność wzgl."),
                (799,273,"(mm Hg)"),(811,273,"ciśnienie"),(799,360,"(km/h)"),(811,360,"wiatr"),
                (799,475,"(km)"),(811,478,"widzialność"),(799,566,"(frakcja)"),(811,566,"mgła")]:
    txt(x, y, s, NAVY, "center", angle=-90)

for wx, nx, sx, ex in [(289, 298, 297, 303), (797, 806, 805, 811)]:
    txt(wx,415,"W",NAVY,"center"); txt(nx,407,"N",NAVY,"center")
    txt(sx,423,"S",NAVY,"center"); txt(ex,415,"E",NAVY,"center",angle=-90)

fig.update_layout(width=W, height=H, autosize=False,
                  margin=dict(l=0, r=0, t=0, b=0, pad=0, autoexpand=False),
                  paper_bgcolor="white", plot_bgcolor="rgba(0,0,0,0)", barmode="overlay", showlegend=False,
                  hovermode=False, font=dict(family=FONT, size=12), shapes=shapes, annotations=annots, **layout)

fig.write_html("out.html", config=dict(displayModeBar=False, staticPlot=True),
               post_script="document.body.style.margin='0';document.documentElement.style.overflow='hidden';")
